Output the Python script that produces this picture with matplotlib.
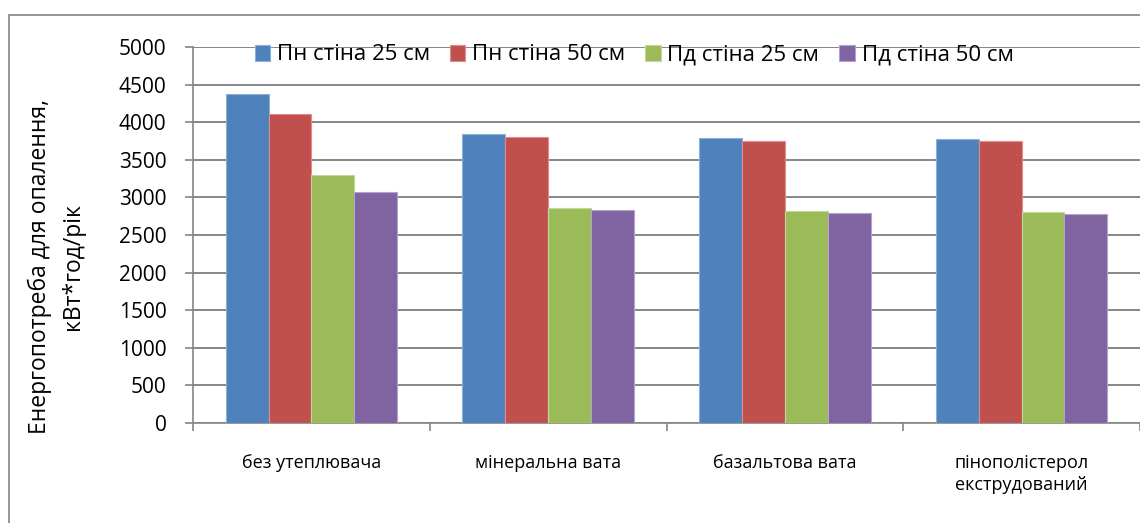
import numpy as np
import matplotlib
matplotlib.use('Agg')
import matplotlib.pyplot as plt
from matplotlib.patches import Rectangle

plt.rcParams['font.family'] = ['Open Sans', 'DejaVu Sans']

categories = ['без утеплювача', 'мінеральна вата', 'базальтова вата',
              'пінополістерол\nекструдований']
series_names = ['Пн стіна 25 см', 'Пн стіна 50 см', 'Пд стіна 25 см', 'Пд стіна 50 см']
pn_25 = [4370, 3845, 3785, 3770]
pn_50 = [4105, 3803, 3754, 3746]
pd_25 = [3294, 2858, 2819, 2802]
pd_50 = [3076, 2828, 2788, 2783]
colors = ['#4F81BD', '#C0504D', '#9BBB59', '#8064A2']
edge_colors = ['#8FAFD8', '#E08C8A', '#C3D89B', '#B3A2CC']

grey = '#868686'
W, H = 1140, 523
fig = plt.figure(figsize=(W / 100, H / 100), dpi=100)
ax = fig.add_axes([193 / W, 1 - 423 / H, (1140 - 193) / W, 376 / H])

x = np.arange(len(categories))
bw = 0.181
for k, vals in enumerate([pn_25, pn_50, pd_25, pd_50]):
    ax.bar(x + (k - 1.5) * bw, vals, width=bw, color=colors[k],
           edgecolor=edge_colors[k], linewidth=0.8, label=series_names[k], zorder=3)

ax.set_xlim(-0.5, 3.5)
ax.set_ylim(0, 5000)
ax.set_yticks(np.arange(0, 5001, 500))
ax.yaxis.grid(True, color=grey, linewidth=1.4, zorder=0)
ax.set_axisbelow(True)
for s in ['top', 'right']:
    ax.spines[s].set_visible(False)
for s in ['left', 'bottom']:
    ax.spines[s].set_color(grey)
    ax.spines[s].set_linewidth(1.2)

ax.set_xticks(x)
ax.set_xticklabels(categories, fontsize=13, linespacing=1.35, va='top')
ax.set_xticks(np.arange(-0.5, 4.0, 1.0), minor=True)
ax.tick_params(axis='x', which='major', length=0, pad=22)
ax.tick_params(axis='x', which='minor', length=6, width=1.2, color=grey, direction='out')
ax.tick_params(axis='y', length=6, width=1.2, color=grey, direction='out',
               labelsize=15, pad=13)

fig.text(40 / W, 1 - 267 / H, 'Енергопотреба для опалення,', rotation=90,
         ha='center', va='center', fontsize=16.5)
fig.text(73 / W, 1 - 267 / H, 'кВт*год/рік', rotation=90,
         ha='center', va='center', fontsize=16.5)

fig.legend(loc='center', bbox_to_anchor=(634 / W, 1 - 55 / H), ncol=4, frameon=False,
           fontsize=16, handlelength=0.7, handleheight=0.7, handletextpad=0.3,
           columnspacing=0.9)

fig.add_artist(Rectangle((9 / W, -0.1), 1.2, 1.1 - 15 / H, transform=fig.transFigure,
                         fill=False, edgecolor=grey, linewidth=1.2))

plt.savefig('out.png', dpi=100)
